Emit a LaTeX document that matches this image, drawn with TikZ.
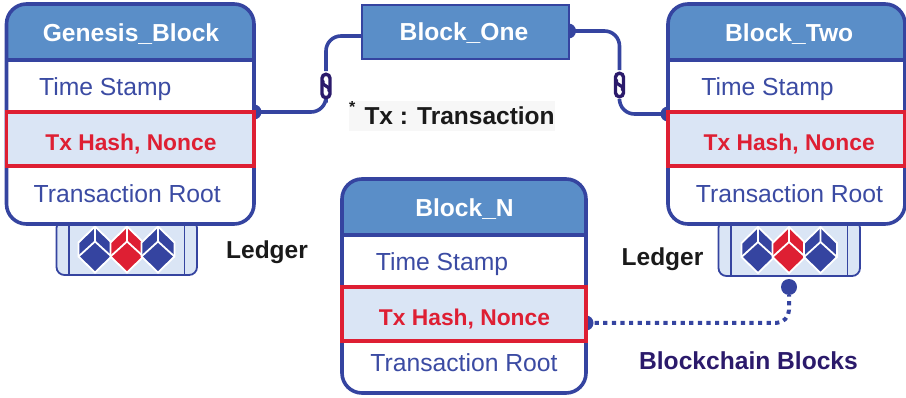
\documentclass[tikz,border=0pt]{standalone}
\usepackage{fontspec}
\setmainfont{Liberation Sans}
\usetikzlibrary{backgrounds,calc}
\definecolor{edgeblue}{HTML}{3544A0}
\definecolor{headblue}{HTML}{5A8EC8}
\definecolor{paleblue}{HTML}{DAE5F5}
\definecolor{hashred}{HTML}{DE1F33}
\definecolor{textblue}{HTML}{3B4BA3}
\definecolor{deeppurple}{HTML}{2B1A6B}
\definecolor{inkblack}{HTML}{1A1A1A}
\tikzset{
  every node/.style={inner sep=0pt,outer sep=0pt},
  blockbody/.style={draw=edgeblue,fill=white,line width=3.6,rounded corners=20},
  hashrow/.style={draw=hashred,fill=paleblue,line width=3.6},
  titletext/.style={anchor=base,text=white,font=\fontsize{24.6}{28}\selectfont\bfseries},
  rowtext/.style={anchor=base,text=textblue,font=\fontsize{24.7}{28}\selectfont},
  hashtext/.style={anchor=base,text=hashred,font=\fontsize{22.8}{26}\selectfont\bfseries},
  labeltext/.style={anchor=base,text=inkblack,font=\fontsize{24.5}{28}\selectfont\bfseries},
  conn/.style={draw=edgeblue,line width=3.6,rounded corners=15},
  dotconn/.style={draw=edgeblue,line width=4,dash pattern=on 4.2pt off 4.4pt,rounded corners=13},
  enddot/.style={fill=edgeblue,circle,minimum size=15},
  ledgerbox/.style={draw=edgeblue,fill=paleblue,line width=1.8,rounded corners=8},
  linkicon/.style={draw=deeppurple,fill=white,line width=3.4,rounded corners=4,minimum width=8,minimum height=23.5},
}
% id, left, top, right, bottom, title, time-stamp x shift, root x shift, title and hash x shift
\newcommand{\blockbox}[9]{%
  \pgfmathsetmacro{\bl}{#2}\pgfmathsetmacro{\bt}{#3}\pgfmathsetmacro{\br}{#4}\pgfmathsetmacro{\bb}{#5}%
  \pgfmathsetmacro{\bw}{\br-\bl}\pgfmathsetmacro{\bh}{\bb-\bt}\pgfmathsetmacro{\bc}{(\bl+\br)/2}%
  \node[blockbody,minimum width=\bw,minimum height=\bh,
    path picture={\fill[headblue,sharp corners] (path picture bounding box.north west) rectangle ++(\bw+4,54+2);
                  \draw[edgeblue,line width=4,sharp corners] ($(path picture bounding box.north west)+(0,54+2)$) -- ++(\bw+4,0);}]
    (#1) at (\bc,{(\bt+\bb)/2}) {};
  \node[hashrow,minimum width=\bw,minimum height=54] (#1-h) at (\bc,\bt+135) {};
  \node[titletext] (#1-t) at (\bc+#9,\bt+38) {#6};
  \node[rowtext] (#1-s) at (\bc+#7,\bt+92) {Time Stamp};
  \node[hashtext] (#1-x) at (\bc+#9,\bt+146.5) {Tx Hash, Nonce};
  \node[rowtext] (#1-r) at (\bc+#8,{\bb-21}) {Transaction Root};
}
% cube centre x, y, colour
\newcommand{\cube}[3]{%
  \begin{scope}[shift={(#1,#2)}]
    \draw[white,line width=1.8,fill=#3,line join=miter]
      (0,-23) -- (16.5,-7) -- (16.5,7) -- (0,23) -- (-16.5,7) -- (-16.5,-7) -- cycle;
    \draw[white,line width=1.8] (0,-23) -- (0,-8) (-16.5,7) -- (0,-8) -- (16.5,7);
  \end{scope}}
% id, left, right, top, bottom
\newcommand{\ledgerbox}[5]{%
  \pgfmathsetmacro{\ll}{#2}\pgfmathsetmacro{\lr}{#3}%
  \node[ledgerbox,minimum width=\lr-\ll,minimum height=#5-#4] (#1) at ({(\ll+\lr)/2},{(#4+#5)/2}) {};
  \draw[edgeblue,line width=1.8] (\ll+12.5,#4) -- (\ll+12.5,#5) (\lr-12.5,#4) -- (\lr-12.5,#5);
}
\newcommand{\chainlink}[3]{%
  \node[linkicon] (#1) at (#2,#3) {};
  \draw[deeppurple,line width=3.2,line cap=round] (#2-3,#3-5) -- (#2-3,#3-2) -- (#2+3,#3+2) -- (#2+3,#3+5);
}
\begin{document}
\begin{tikzpicture}[x=1pt,y=-1pt]
\useasboundingbox (0,0) rectangle (906,398);

% ledgers (under the blocks)
\ledgerbox{ledgerA}{56.5}{197}{220}{275}
\cube{95}{249.5}{edgeblue}\cube{127}{249.5}{hashred}\cube{158}{249.5}{edgeblue}
\ledgerbox{ledgerB}{718.5}{860}{220}{276}
\cube{758}{250}{edgeblue}\cube{789}{250}{hashred}\cube{820.5}{250}{edgeblue}

% blocks
\blockbox{gen}{6.5}{4}{254}{224}{Genesis\_Block}{-25}{-3}{0.7}
\blockbox{two}{668}{4}{905}{224}{Block\_Two}{-19}{3}{2.7}
\blockbox{bn}{342}{179}{586}{393}{Block\_N}{-22}{0}{0.5}

\node[draw=edgeblue,fill=headblue,line width=2,minimum width=207,minimum height=54] (one) at (465,32) {};
\node[titletext] (onet) at (464,41) {Block\_One};

% chain links
\chainlink{linkA}{326}{86}
\chainlink{linkB}{619.5}{85}

% connectors, under the boxes
\coordinate (genout) at (gen-h.north east);
\coordinate (onein) at ($(one.west)+(0,4)$);
\coordinate (oneout) at ($(one.east)+(0,-1)$);
\coordinate (twoin) at ($(two-h.north west)+(0,2)$);
\coordinate (nout) at ($(bn-h.east)+(0,9)$);
\coordinate (linkAdown) at ($(linkA.south)+(0,5)$);
\coordinate (linkAup) at ($(linkA.north)+(0,-3)$);
\coordinate (linkBdown) at ($(linkB.south)+(0,4)$);
\coordinate (linkBup) at ($(linkB.north)+(0,-3)$);
\node[enddot,minimum size=16] (ledgerdot) at (789,287) {};
\begin{scope}[on background layer]
  \fill[edgeblue] (genout) circle (7.5);
  \fill[edgeblue] (oneout) circle (7.5);
  \fill[edgeblue] (twoin) circle (7.5);
  \fill[edgeblue] (nout) circle (7.5);
  \draw[conn] (genout) -| (linkAdown);
  \draw[conn] (linkAup) |- (onein);
  \draw[conn] (oneout) -| (linkBup);
  \draw[conn] (linkBdown) |- (twoin);
  \draw[dotconn] (nout) -| (ledgerdot);
\end{scope}

% labels
\fill[black!3] (349,101) rectangle (555,131);
\node[labeltext,anchor=base west] (star) at (349,113) {\fontsize{16}{18}\selectfont *};
\node[labeltext,anchor=base west] (note) at (364.5,125) {Tx : Transaction};
\node[labeltext] (ledgerl) at (267,259) {Ledger};
\node[labeltext] (ledgerr) at (662.5,266) {Ledger};
\node[labeltext,text=deeppurple,font=\fontsize{24.6}{28}\selectfont\bfseries] (chain) at (748.5,370) {Blockchain Blocks};
\end{tikzpicture}
\end{document}
